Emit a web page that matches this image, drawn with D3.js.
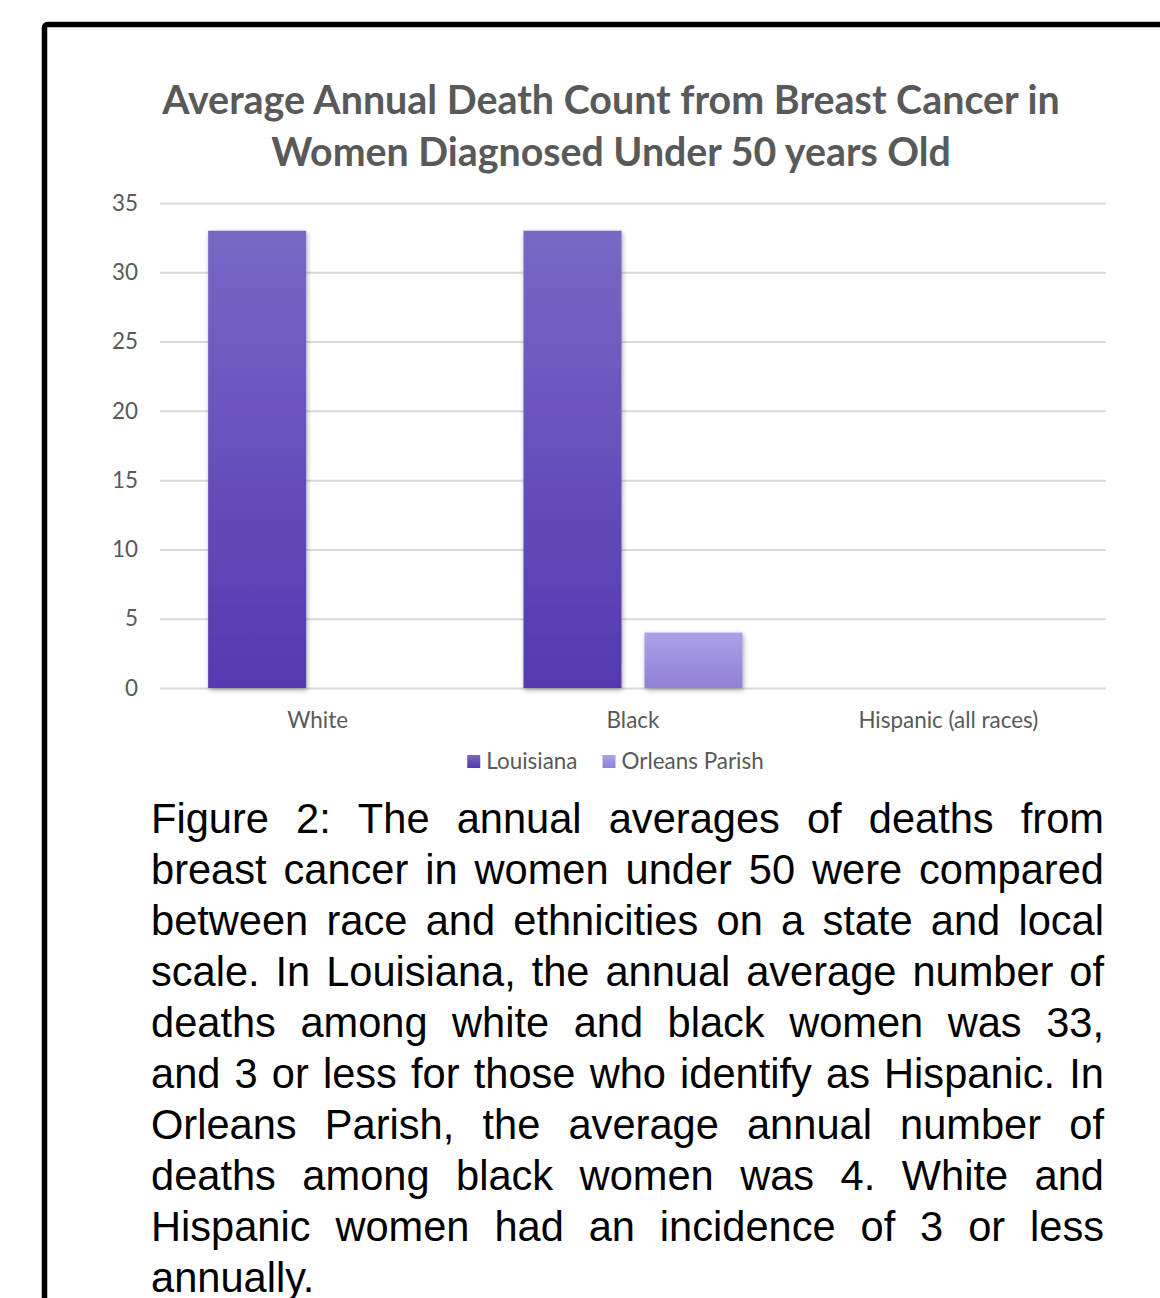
<!DOCTYPE html>
<html>
<head>
<meta charset="utf-8">
<script src="https://cdn.jsdelivr.net/npm/d3@7"></script>
<style>
  html, body { margin: 0; padding: 0; background: #fff; }
  svg { display: block; }
</style>
</head>
<body>
<svg id="chart" width="1160" height="1298"></svg>
<script>
// ---- data ----
const titleLines = ["Average Annual Death Count from Breast Cancer in", "Women Diagnosed Under 50 years Old"];
const categories = ["White", "Black", "Hispanic (all races)"];
const seriesNames = ["Louisiana", "Orleans Parish"];
const louisianaValues = [33, 33, null];
const orleansValues = [null, 4, null];
const yTickValues = [0, 5, 10, 15, 20, 25, 30, 35];
const captionLines = [
  "Figure 2: The annual averages of deaths from",
  "breast cancer in women under 50 were compared",
  "between race and ethnicities on a state and local",
  "scale. In Louisiana, the annual average number of",
  "deaths among white and black women was 33,",
  "and 3 or less for those who identify as Hispanic. In",
  "Orleans Parish, the average annual number of",
  "deaths among black women was 4. White and",
  "Hispanic women had an incidence of 3 or less",
  "annually."
];

// ---- layout ----
const svg = d3.select("#chart");
const plot = { left: 160, right: 1106, top: 203, bottom: 688 };
const labelFont = "Lato, 'Open Sans', sans-serif";
const textColor = "#595959";

// border
svg.append("rect")
  .attr("x", 44.5).attr("y", 24.5)
  .attr("width", 1400).attr("height", 1600)
  .attr("rx", 3)
  .attr("fill", "none").attr("stroke", "#000").attr("stroke-width", 5.5);

// defs: gradients + shadow
const defs = svg.append("defs");
const gradStops = {
  "Louisiana": ["#7868c5", "#5339b0"],
  "Orleans Parish": ["#aca1e7", "#9080d6"]
};
seriesNames.forEach((s, i) => {
  const g = defs.append("linearGradient").attr("id", "grad" + i)
    .attr("x1", 0).attr("y1", 0).attr("x2", 0).attr("y2", 1);
  g.append("stop").attr("offset", "0%").attr("stop-color", gradStops[s][0]);
  g.append("stop").attr("offset", "100%").attr("stop-color", gradStops[s][1]);
});
const f = defs.append("filter").attr("id", "shadow")
  .attr("x", "-20%").attr("y", "-20%").attr("width", "140%").attr("height", "140%");
f.append("feDropShadow").attr("dx", 1).attr("dy", 2).attr("stdDeviation", 2.5)
  .attr("flood-color", "#000").attr("flood-opacity", 0.35);

// helper to fit font size to a width
function fitFont(sel, target) {
  const w = sel.node().getComputedTextLength();
  const fs = parseFloat(sel.attr("font-size"));
  sel.attr("font-size", fs * target / w);
  return fs * target / w;
}

// title
const titleTargets = [898, 680];
const titleBaselines = [114, 166];
titleLines.forEach((t, i) => {
  const tt = svg.append("text")
    .attr("x", 611).attr("y", titleBaselines[i])
    .attr("text-anchor", "middle")
    .attr("font-family", labelFont).attr("font-weight", "bold")
    .attr("font-size", 36).attr("fill", textColor)
    .text(t);
  fitFont(tt, titleTargets[i]);
});

// measure label font size
const probe = svg.append("text").attr("font-family", labelFont).attr("font-size", 20).text(categories[2]);
const labelSize = Math.max(18, Math.min(23, fitFont(probe, 180)));
probe.remove();

// scales
const x0 = d3.scaleBand().domain(categories).range([plot.left, plot.right]).paddingInner(0).paddingOuter(0);
const x1 = d3.scaleBand().domain(seriesNames).range([0, x0.bandwidth()]).paddingInner(0.19).paddingOuter(0.398);
const y = d3.scaleLinear().domain([0, 35]).range([plot.bottom, plot.top]);

// gridlines + y labels
const yAxis = svg.append("g")
  .attr("transform", `translate(${plot.left},0)`)
  .call(d3.axisLeft(y).tickValues(yTickValues).tickSize(-(plot.right - plot.left)).tickPadding(22));
yAxis.select(".domain").remove();
yAxis.selectAll(".tick line").attr("stroke", "#d9d9d9").attr("stroke-width", 2);
yAxis.selectAll(".tick text")
  .attr("font-family", labelFont).attr("font-size", labelSize).attr("fill", textColor);

// bars
const seriesData = [louisianaValues, orleansValues];
const groups = svg.append("g").selectAll("g")
  .data(categories).join("g")
  .attr("transform", d => `translate(${x0(d)},0)`);
groups.selectAll("rect")
  .data((c, ci) => seriesNames.map((s, si) => ({ s, si, v: seriesData[si][ci] })).filter(d => d.v != null && d.v > 0))
  .join("rect")
  .attr("x", d => x1(d.s))
  .attr("width", x1.bandwidth())
  .attr("y", d => y(d.v))
  .attr("height", d => y(0) - y(d.v))
  .attr("fill", d => `url(#grad${d.si})`)
  .attr("filter", "url(#shadow)");

// x axis labels
const xAxis = svg.append("g")
  .attr("transform", `translate(0,${plot.bottom})`)
  .call(d3.axisBottom(x0).tickSize(0).tickPadding(24));
xAxis.select(".domain").remove();
xAxis.selectAll(".tick text")
  .attr("font-family", labelFont).attr("font-size", labelSize).attr("fill", textColor);

// legend
const legend = svg.append("g");
let lx = 0;
seriesNames.forEach((s, i) => {
  const g = legend.append("g").attr("transform", `translate(${lx},0)`);
  g.append("rect").attr("x", 0).attr("y", 755).attr("width", 13).attr("height", 13)
    .attr("fill", `url(#grad${i})`);
  const t = g.append("text").attr("x", 19).attr("y", 769)
    .attr("font-family", labelFont).attr("font-size", labelSize).attr("fill", textColor)
    .text(s);
  lx += 19 + t.node().getComputedTextLength() + 25;
});
const lw = lx - 25;
legend.attr("transform", `translate(${615.5 - lw / 2},0)`);

// caption (justified)
const capLeft = 151, capRight = 1104, capBase = 833, capStep = 51;
const capFont = "'Liberation Sans', Arial, sans-serif";
const capSize = 41.6;
captionLines.forEach((line, li) => {
  const words = line.split(" ");
  const yy = capBase + li * capStep;
  const nodes = words.map(w => svg.append("text")
    .attr("y", yy).attr("font-family", capFont).attr("font-size", capSize).attr("fill", "#000")
    .text(w));
  const widths = nodes.map(n => n.node().getComputedTextLength());
  const total = d3.sum(widths);
  const last = li === captionLines.length - 1;
  const spaceW = last ? capSize * 0.278 : (capRight - capLeft - total) / (words.length - 1);
  let cx = capLeft;
  nodes.forEach((n, i) => { n.attr("x", cx); cx += widths[i] + spaceW; });
});
</script>
</body>
</html>
